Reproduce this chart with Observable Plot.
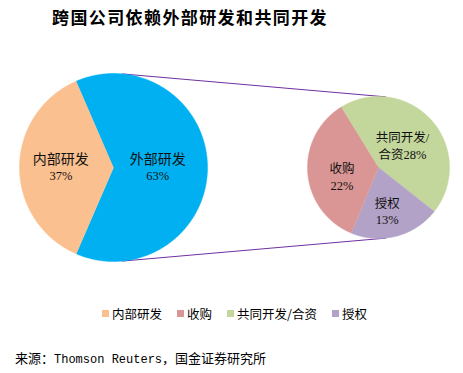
<!DOCTYPE html>
<html><head><meta charset="utf-8">
<script src="https://cdn.jsdelivr.net/npm/d3@7"></script>
<script src="https://cdn.jsdelivr.net/npm/@observablehq/plot@0.6"></script>
<style>
html,body{margin:0;padding:0;background:#fff;}
body{width:463px;height:373px;overflow:hidden;position:relative;font-family:"Noto Sans CJK SC",sans-serif;color:#000;}
#title{position:absolute;left:52px;top:0;height:34px;line-height:34px;font-size:17px;font-weight:700;letter-spacing:1.4px;white-space:nowrap;}
#chart{position:absolute;left:0;top:34px;}
#legend{position:absolute;left:0;top:296px;width:463px;}
#legend .lg-swatches-wrap{justify-content:flex-start !important;padding-left:102px;min-height:34px !important;margin:0 !important;}
#legend .lg-swatch{margin-right:15px !important;}
#legend .lg-swatch > svg{margin-right:3px !important;}
#caption{position:absolute;left:15px;top:348px;line-height:20px;font-size:13px;white-space:nowrap;}
#caption .lat{font-family:"Liberation Mono",monospace;font-size:12px;}
</style></head>
<body>
<div id="title">跨国公司依赖外部研发和共同开发</div>
<div id="chart"></div>
<div id="legend"></div>
<div id="caption">来源：<span class="lat">Thomson Reuters</span>，国金证券研究所</div>
<script>
// ---- data ----
const mainCategories = ["外部研发", "内部研发"];
const mainValues = [63, 37];
const subCategories = ["共同开发/合资", "授权", "收购"];
const subValues = [28, 13, 22];
const legendLabels = ["内部研发", "收购", "共同开发/合资", "授权"];

// ---- styles / layout ----
const colorMap = {"外部研发": "#00B0F0", "内部研发": "#FAC090", "共同开发/合资": "#C3D69B", "授权": "#B3A2C7", "收购": "#D99694"};
const W = 463, H = 262;
const mainPie = {cx: 113, cy: 133, r: 94};
const subPie = {cx: 378, cy: 133, r: 71, start: -31.7 * Math.PI / 180};
const labelLayout = {
  "外部研发": {f: 0.47, da: 0}, "内部研发": {f: 0.56, da: 0},
  "共同开发/合资": {f: 0.46, da: -1}, "授权": {f: 0.62, da: 3}, "收购": {f: 0.53, da: -9}
};
const connectorAngles = {main: 5.5, sub: 5.7};

const mainTotal = d3.sum(mainValues);
mainPie.start = Math.PI / 2 - Math.PI * mainValues[0] / mainTotal;

function buildArcs(cats, vals, pie) {
  const rows = cats.map((c, i) => ({key: c, v: vals[i]}));
  return d3.pie().sort(null).value(d => d.v).startAngle(pie.start).endAngle(pie.start + 2 * Math.PI)(rows)
    .map(a => ({key: a.data.key, v: a.data.v, a0: a.startAngle, a1: a.endAngle, pie}));
}
const pt = (pie, a, f = 1) => ({x: pie.cx + pie.r * f * Math.sin(a), y: pie.cy - pie.r * f * Math.cos(a)});

function polys(arcs) {
  const out = [];
  for (const s of arcs) {
    out.push({key: s.key, ...pt(s.pie, 0, 0)});
    const n = Math.max(2, Math.ceil((s.a1 - s.a0) / (0.5 * Math.PI / 180)));
    for (let k = 0; k <= n; k++) out.push({key: s.key, ...pt(s.pie, s.a0 + (s.a1 - s.a0) * k / n)});
  }
  return out;
}
function labelPos(s) {
  const L = labelLayout[s.key];
  const a = (s.a0 + s.a1) / 2 + L.da * Math.PI / 180;
  return {key: s.key, v: s.v, ...pt(s.pie, a, L.f)};
}

const mainArcs = buildArcs(mainCategories, mainValues, mainPie);
const subArcs = buildArcs(subCategories, subValues, subPie);
const slicePts = polys(mainArcs).concat(polys(subArcs));
const mainLabels = mainArcs.map(labelPos);
const subLabels = subArcs.map(labelPos);

const rad = d => d * Math.PI / 180;
const connectors = [
  {id: "top", ...pt(mainPie, rad(connectorAngles.main))}, {id: "top", ...pt(subPie, rad(connectorAngles.sub))},
  {id: "bot", ...pt(mainPie, rad(180 - connectorAngles.main))}, {id: "bot", ...pt(subPie, rad(180 - connectorAngles.sub))}
];

const allCats = Object.keys(colorMap);
const chart = Plot.plot({
  width: W, height: H, margin: 0,
  x: {domain: [0, W], range: [0, W], axis: null},
  y: {domain: [0, H], range: [0, H], axis: null},
  color: {domain: allCats, range: allCats.map(c => colorMap[c])},
  style: {background: "#fff", overflow: "visible"},
  marks: [
    Plot.line(connectors, {x: "x", y: "y", z: "id", stroke: "#7030A0", strokeWidth: 1}),
    Plot.line(slicePts, {x: "x", y: "y", z: "key", fill: "key", stroke: "key", strokeWidth: 0.5, curve: "linear"}),
    Plot.text(mainLabels, {x: "x", y: "y", text: "key", dy: -8, fontSize: 14, fill: "#111", fontFamily: "Noto Sans CJK SC"}),
    Plot.text(mainLabels, {x: "x", y: "y", text: d => d.v + "%", dy: 8, fontSize: 12.5, fill: "#111", fontFamily: "Liberation Serif"}),
    Plot.text(subLabels, {x: "x", y: "y", text: d => d.key.includes("/") ? d.key.replace("/", "/\n") + d.v + "%" : d.key + "\n" + d.v + "%",
      fontSize: 12.5, lineHeight: 1.3, fill: "#111", fontFamily: "'Liberation Serif','Noto Sans CJK SC'"})
  ]
});
document.getElementById("chart").appendChild(chart);

const legend = Plot.legend({
  legend: "swatches",
  color: {type: "ordinal", domain: legendLabels, range: legendLabels.map(c => colorMap[c])},
  swatchWidth: 7, swatchHeight: 7, className: "lg",
  style: {fontSize: "12.5px", fontFamily: "Noto Sans CJK SC", color: "#000"}
});
document.getElementById("legend").appendChild(legend);
</script>
</body></html>
